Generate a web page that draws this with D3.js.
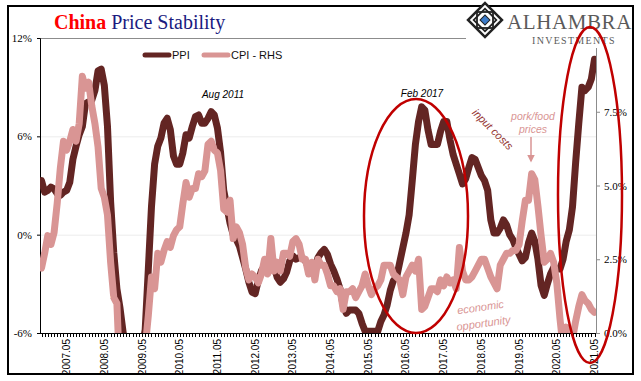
<!DOCTYPE html>
<html>
<head>
<meta charset="utf-8">
<script src="https://cdn.jsdelivr.net/npm/d3@7"></script>
<style>
  body { margin: 0; background: #fff; }
</style>
</head>
<body>
<div id="chart"></div>
<script>
// monthly YoY %, Jan 2007 .. Sep 2021
const ppi = [
  3.3, 2.6, 2.7, 2.9, 2.8, 2.5, 2.4, 2.6, 2.7, 3.2, 4.6, 5.4,
  6.1, 6.6, 8.0, 8.1, 8.2, 8.8, 10.0, 10.1, 9.1, 6.6, 2.0, -1.1,
  -3.3, -4.5, -6.0, -6.6, -7.2, -7.8, -8.2, -7.9, -7.0, -5.8, -2.1, 1.7,
  4.3, 5.4, 5.9, 6.8, 7.1, 6.4, 4.8, 4.3, 4.3, 5.0, 6.1, 5.9,
  6.6, 7.2, 7.3, 6.8, 6.8, 7.1, 7.5, 7.3, 6.5, 5.0, 2.7, 1.7,
  0.7, 0.0, -0.3, -0.7, -1.4, -2.1, -2.9, -3.5, -3.6, -2.8, -2.2, -1.9,
  -1.6, -1.6, -1.9, -2.6, -2.9, -2.7, -2.3, -1.6, -1.3, -1.5, -1.4, -1.4,
  -1.6, -2.0, -2.3, -2.0, -1.4, -1.1, -0.9, -1.2, -1.8, -2.2, -2.7, -3.3,
  -4.3, -4.8, -4.6, -4.6, -4.6, -4.8, -5.4, -5.9, -5.9, -5.9, -5.9, -5.9,
  -5.3, -4.9, -4.3, -3.4, -2.8, -2.6, -1.7, -0.8, 0.1, 1.2, 3.3, 5.5,
  6.9, 7.8, 7.6, 6.4, 5.5, 5.5, 5.5, 6.3, 6.9, 6.9, 5.8, 4.9,
  4.3, 3.7, 3.1, 3.4, 4.1, 4.7, 4.6, 4.1, 3.6, 3.3, 2.7, 0.9,
  0.1, 0.1, 0.4, 0.9, 0.6, 0.0, -0.3, -0.8, -1.2, -1.6, -1.4, -0.5,
  0.1, -0.4, -1.5, -3.1, -3.7, -3.0, -2.4, -2.0, -2.1, -2.1, -1.5, -0.4,
  0.3, 1.7, 4.4, 6.8, 9.0, 8.8, 9.0, 9.5, 10.7
];
const cpi = [
  2.2, 2.7, 3.3, 3.0, 3.4, 4.4, 5.6, 6.5, 6.2, 6.5, 6.9, 6.5,
  7.1, 8.7, 8.3, 8.5, 7.7, 7.1, 6.3, 4.9, 4.6, 4.0, 2.4, 1.2,
  1.0, -1.6, -1.2, -1.5, -1.4, -1.7, -1.8, -1.2, -0.8, -0.5, 0.6, 1.9,
  1.5, 2.7, 2.4, 2.8, 3.1, 2.9, 3.3, 3.5, 3.6, 4.4, 5.1, 4.6,
  4.9, 4.9, 5.4, 5.3, 5.5, 6.4, 6.5, 6.2, 6.1, 5.5, 4.2, 4.1,
  4.5, 3.2, 3.6, 3.4, 3.0, 2.2, 1.8, 2.0, 1.9, 1.7, 2.0, 2.5,
  2.0, 3.2, 2.1, 2.4, 2.1, 2.7, 2.7, 2.6, 3.1, 3.2, 3.0, 2.5,
  2.5, 2.0, 2.4, 1.8, 2.5, 2.3, 2.3, 2.0, 1.6, 1.6, 1.4, 1.5,
  0.8, 1.4, 1.4, 1.5, 1.2, 1.4, 1.6, 2.0, 1.6, 1.3, 1.5, 1.6,
  1.8, 2.3, 2.3, 2.3, 2.0, 1.9, 1.8, 1.3, 1.9, 2.1, 2.3, 2.1,
  2.5, 0.8, 0.9, 1.2, 1.5, 1.5, 1.4, 1.8, 1.6, 1.9, 1.7, 1.8,
  1.5, 2.9, 2.1, 1.8, 1.8, 1.9, 2.1, 2.3, 2.5, 2.5, 2.2, 1.9,
  1.7, 1.5, 2.3, 2.5, 2.7, 2.7, 2.8, 2.8, 3.0, 3.8, 4.5, 4.5,
  5.4, 5.2, 4.3, 3.3, 2.4, 2.5, 2.7, 2.4, 1.7, 0.5, -0.5, 0.2,
  -0.3, -0.2, 0.4, 0.9, 1.3, 1.1, 1.0, 0.8, 0.7
];
const months = d3.timeMonth.range(new Date(2007, 0, 1), new Date(2021, 9, 1));
const tickLabels = ["2007.05", "2008.05", "2009.05", "2010.05", "2011.05", "2012.05", "2013.05",
  "2014.05", "2015.05", "2016.05", "2017.05", "2018.05", "2019.05", "2020.05", "2021.05"];
const leftTicks = [-6, 0, 6, 12];
const rightTicks = [0, 2.5, 5, 7.5];

const PPI_COLOR = "#632523";
const CPI_COLOR = "#d99594";
const RED = "#c00000";

const width = 641, height = 381;
const plot = { left: 40, right: 596, top: 38, bottom: 333 };

const svg = d3.select("#chart").append("svg")
  .attr("width", width)
  .attr("height", height);

// frame
svg.append("rect")
  .attr("x", 8).attr("y", 6).attr("width", 625).attr("height", 368)
  .attr("fill", "#fff").attr("stroke", "#000").attr("stroke-width", 2);

// scales (label "YYYY.05" sits on the September point in the original)
const x = d3.scalePoint().domain(d3.range(months.length)).range([41.5, 594.5]);
const yL = d3.scaleLinear().domain([-6, 12]).range([plot.bottom, plot.top]);
const yR = d3.scaleLinear().domain([0, 10]).range([plot.bottom, plot.top]);

// gridlines
svg.append("g").selectAll("line").data([0, 6]).join("line")
  .attr("x1", plot.left).attr("x2", plot.right)
  .attr("y1", d => yL(d) + 0.5).attr("y2", d => yL(d) + 0.5)
  .attr("stroke", "#ececec");
svg.append("line")
  .attr("x1", plot.left).attr("x2", 466)
  .attr("y1", plot.top + 0.5).attr("y2", plot.top + 0.5)
  .attr("stroke", "#8c8c8c");

// title
const title = svg.append("text")
  .attr("x", 54).attr("y", 29)
  .attr("font-family", "Liberation Serif, Times New Roman, serif")
  .attr("font-size", 20);
title.append("tspan").attr("fill", "#ff0000").attr("font-weight", "bold").text("China");
title.append("tspan").attr("fill", "#1a1a80").text(" Price Stability");

// left axis
const gL = svg.append("g").attr("transform", `translate(${plot.left},0)`)
  .call(d3.axisLeft(yL).tickValues(leftTicks).tickSize(3).tickFormat(d => d + "%"));
gL.select(".domain").attr("stroke", "#000");
gL.selectAll("text").attr("font-family", "Liberation Serif, serif").attr("font-size", 11)
  .attr("fill", "#000").attr("x", -8);

// right axis
const gR = svg.append("g").attr("transform", `translate(${plot.right},0)`)
  .call(d3.axisRight(yR).tickValues(rightTicks).tickSize(4).tickFormat(d => d.toFixed(1) + "%"));
gR.select(".domain").attr("stroke", "#8c8c8c");
gR.selectAll(".tick line").attr("stroke", "#8c8c8c");
gR.selectAll("text").attr("font-family", "Liberation Serif, serif").attr("font-size", 11)
  .attr("fill", "#000").attr("x", 8);

// bottom axis: monthly ticks
const gB = svg.append("g");
gB.append("line")
  .attr("x1", plot.left).attr("x2", plot.right)
  .attr("y1", plot.bottom + 0.5).attr("y2", plot.bottom + 0.5)
  .attr("stroke", "#000");
gB.selectAll("line.tick").data(months).join("line")
  .attr("class", "tick")
  .attr("x1", (d, i) => Math.round(x(i)) + 0.5).attr("x2", (d, i) => Math.round(x(i)) + 0.5)
  .attr("y1", plot.bottom).attr("y2", plot.bottom + 4)
  .attr("stroke", "#000");
gB.selectAll("text").data(tickLabels).join("text")
  .attr("transform", (d, i) => `translate(${x(8 + 12 * i) + 3.5},339) rotate(-90)`)
  .attr("text-anchor", "end")
  .attr("font-family", "Liberation Sans, Arial, sans-serif")
  .attr("font-size", 10)
  .attr("fill", "#000")
  .text(d => d);

// series
svg.append("clipPath").attr("id", "plotclip")
  .append("rect")
  .attr("x", plot.left).attr("y", plot.top)
  .attr("width", plot.right - plot.left).attr("height", plot.bottom - plot.top);

const series = svg.append("g").attr("clip-path", "url(#plotclip)");
series.append("path")
  .datum(ppi)
  .attr("fill", "none")
  .attr("stroke", PPI_COLOR)
  .attr("stroke-width", 7)
  .attr("stroke-linejoin", "round")
  .attr("stroke-linecap", "round")
  .attr("d", d3.line().x((d, i) => x(i)).y(d => yL(d)));
series.append("path")
  .datum(cpi)
  .attr("fill", "none")
  .attr("stroke", CPI_COLOR)
  .attr("stroke-width", 7)
  .attr("stroke-linejoin", "round")
  .attr("stroke-linecap", "round")
  .attr("d", d3.line().x((d, i) => x(i)).y(d => yR(d)));

// legend
const legend = svg.append("g").attr("font-family", "Liberation Sans, Arial, sans-serif").attr("font-size", 11);
[{ name: "PPI", color: PPI_COLOR, x: 145 }, { name: "CPI - RHS", color: CPI_COLOR, x: 204 }].forEach(d => {
  legend.append("line")
    .attr("x1", d.x).attr("x2", d.x + 24).attr("y1", 55).attr("y2", 55)
    .attr("stroke", d.color).attr("stroke-width", 5).attr("stroke-linecap", "round");
  legend.append("text").attr("x", d.x + 27).attr("y", 59).attr("fill", "#111").text(d.name);
});

// logo
const logo = svg.append("g");
logo.append("rect").attr("x", 466).attr("y", 8).attr("width", 166).attr("height", 40).attr("fill", "#fff");
const icon = logo.append("g").attr("transform", "translate(485,20) rotate(45)");
icon.append("rect").attr("x", -12).attr("y", -12).attr("width", 24).attr("height", 24)
  .attr("fill", "#fff").attr("stroke", "#222").attr("stroke-width", 2.5);
icon.append("rect").attr("x", -8).attr("y", -8).attr("width", 16).attr("height", 16)
  .attr("fill", "none").attr("stroke", "#222").attr("stroke-width", 1.8);
icon.append("g").attr("transform", "rotate(45)")
  .append("rect").attr("x", -8).attr("y", -8).attr("width", 16).attr("height", 16)
  .attr("fill", "none").attr("stroke", "#222").attr("stroke-width", 1.8);
icon.append("rect").attr("x", -3.5).attr("y", -3.5).attr("width", 7).attr("height", 7)
  .attr("fill", "#3d7cc9").attr("stroke", "#222").attr("stroke-width", 1);
logo.append("text").attr("x", 507).attr("y", 29)
  .attr("font-family", "Liberation Serif, serif").attr("font-size", 21)
  .attr("letter-spacing", 0.6).attr("fill", "#5a5a5a").text("ALHAMBRA");
logo.append("text").attr("x", 532).attr("y", 44)
  .attr("font-family", "Liberation Serif, serif").attr("font-size", 10)
  .attr("letter-spacing", 1.3).attr("fill", "#5a5a5a").text("INVESTMENTS");

// annotations
const ann = svg.append("g").attr("font-family", "Liberation Sans, Arial, sans-serif")
  .attr("font-style", "italic");
ann.append("text").attr("x", 223).attr("y", 98).attr("text-anchor", "middle")
  .attr("font-size", 10).attr("fill", "#000").text("Aug 2011");
ann.append("text").attr("x", 422).attr("y", 97).attr("text-anchor", "middle")
  .attr("font-size", 10).attr("fill", "#000").text("Feb 2017");
ann.append("text").attr("transform", "translate(490,132) rotate(45)").attr("text-anchor", "middle")
  .attr("font-size", 11).attr("fill", "#953735").text("input costs");
ann.append("text").attr("x", 533).attr("y", 120).attr("text-anchor", "middle")
  .attr("font-size", 10.5).attr("fill", CPI_COLOR).text("pork/food");
ann.append("text").attr("x", 533).attr("y", 133).attr("text-anchor", "middle")
  .attr("font-size", 10.5).attr("fill", CPI_COLOR).text("prices");
ann.append("text").attr("transform", "translate(481,311) rotate(-8)").attr("text-anchor", "middle")
  .attr("font-size", 11).attr("fill", CPI_COLOR).text("economic");
ann.append("text").attr("transform", "translate(484,327) rotate(-8)").attr("text-anchor", "middle")
  .attr("font-size", 11).attr("fill", CPI_COLOR).text("opportunity");
ann.append("text").attr("x", 108).attr("y", 301).attr("text-anchor", "middle")
  .attr("font-size", 10).attr("font-style", "normal").attr("fill", "#fff").text("e");

// arrow
svg.append("defs").append("marker")
  .attr("id", "arrow").attr("viewBox", "0 0 10 10").attr("refX", 8).attr("refY", 5)
  .attr("markerWidth", 5).attr("markerHeight", 5).attr("orient", "auto")
  .append("path").attr("d", "M0,0L10,5L0,10z").attr("fill", CPI_COLOR);
svg.append("line")
  .attr("x1", 531).attr("x2", 531).attr("y1", 137).attr("y2", 161)
  .attr("stroke", CPI_COLOR).attr("stroke-width", 1.5).attr("marker-end", "url(#arrow)");

// red ellipses
svg.append("ellipse")
  .attr("cx", 416).attr("cy", 216).attr("rx", 52).attr("ry", 117)
  .attr("fill", "none").attr("stroke", RED).attr("stroke-width", 2.5);
svg.append("ellipse")
  .attr("cx", 590).attr("cy", 195).attr("rx", 32).attr("ry", 168)
  .attr("fill", "none").attr("stroke", RED).attr("stroke-width", 2.5);
</script>
</body>
</html>
